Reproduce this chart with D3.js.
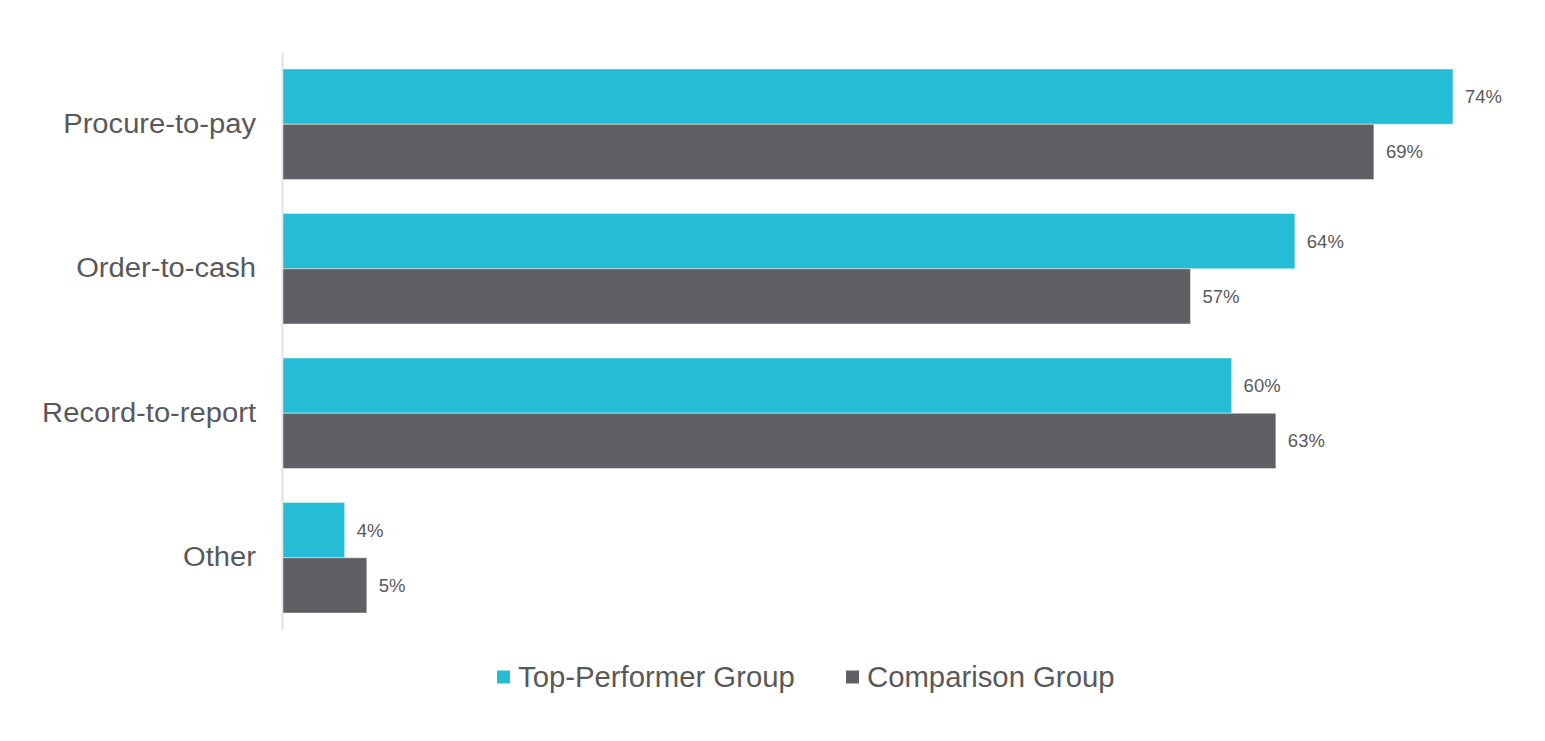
<!DOCTYPE html>
<html>
<head>
<meta charset="utf-8">
<script src="https://cdn.jsdelivr.net/npm/d3@7"></script>
<style>
  html, body { margin: 0; padding: 0; background: #fff; }
  svg { display: block; }
</style>
</head>
<body>
<svg id="chart" width="1545" height="741"></svg>
<script>
const categories = ["Procure-to-pay", "Order-to-cash", "Record-to-report", "Other"];
const seriesNames = ["Top-Performer Group", "Comparison Group"];
const topPerformer = [74, 64, 60, 3.9];
const comparison = [69, 57.4, 62.8, 5.3];
const colors = ["#25BCD6", "#5F6065"];

const W = 1545, H = 741;
const margin = { left: 283, right: 0, top: 52, bottom: 111 };

const svg = d3.select("#chart");

const data = categories.map((c, i) => ({ cat: c, values: [topPerformer[i], comparison[i]] }));

const x = d3.scaleLinear().domain([0, 80]).range([283, 283 + 80 * 15.81]);
const y = d3.scaleBand().domain(categories).range([margin.top, H - margin.bottom])
  .paddingInner(0.235).paddingOuter(0.1175);
const ySub = d3.scaleBand().domain(seriesNames).range([0, y.bandwidth()]);

// axis line
const yAxis = d3.axisLeft(y).tickSize(0).tickFormat("");
const axisG = svg.append("g").attr("transform", "translate(282,0)").call(yAxis);
axisG.select(".domain").attr("stroke", "#e2e2e2").attr("stroke-width", 2);

// bars
const groups = svg.append("g").selectAll("g").data(data).join("g")
  .attr("transform", d => `translate(0,${y(d.cat)})`);

groups.selectAll("rect").data(d => d.values.map((v, i) => ({ v, i })))
  .join("rect")
  .attr("x", x(0))
  .attr("y", d => ySub(seriesNames[d.i]))
  .attr("width", d => x(d.v) - x(0))
  .attr("height", ySub.bandwidth())
  .attr("fill", d => colors[d.i])
  .attr("stroke", "#ffffff")
  .attr("stroke-opacity", 0.45)
  .attr("stroke-width", 1);

groups.selectAll("text.val").data(d => d.values.map((v, i) => ({ v, i })))
  .join("text")
  .attr("class", "val")
  .attr("x", d => x(d.v) + 12)
  .attr("y", d => ySub(seriesNames[d.i]) + ySub.bandwidth() / 2)
  .attr("dy", "0.35em")
  .attr("font-family", "Liberation Sans, Arial, sans-serif")
  .attr("font-size", 18.5)
  .attr("fill", "#595959")
  .text(d => d3.format(".0f")(d.v) + "%");

// category labels
svg.append("g").selectAll("text").data(categories).join("text")
  .attr("transform", d => `translate(256,${y(d) + y.bandwidth() / 2 + 8.5}) scale(1.08,1)`)
  .attr("text-anchor", "end")
  .attr("font-family", "Liberation Sans, Arial, sans-serif")
  .attr("font-size", 27)
  .attr("fill", "#595959")
  .text(d => d);

// legend
const legendX = [497, 846];
const legend = svg.append("g").selectAll("g").data(seriesNames).join("g")
  .attr("transform", (d, i) => `translate(${legendX[i]},677)`);
legend.append("rect")
  .attr("x", 0).attr("y", -6.5).attr("width", 13).attr("height", 13)
  .attr("fill", (d, i) => colors[i]);
legend.append("text")
  .attr("x", 21).attr("y", 0).attr("dy", "0.35em")
  .attr("font-family", "Liberation Sans, Arial, sans-serif")
  .attr("font-size", 29.3)
  .attr("fill", "#595959")
  .text(d => d);
</script>
</body>
</html>
